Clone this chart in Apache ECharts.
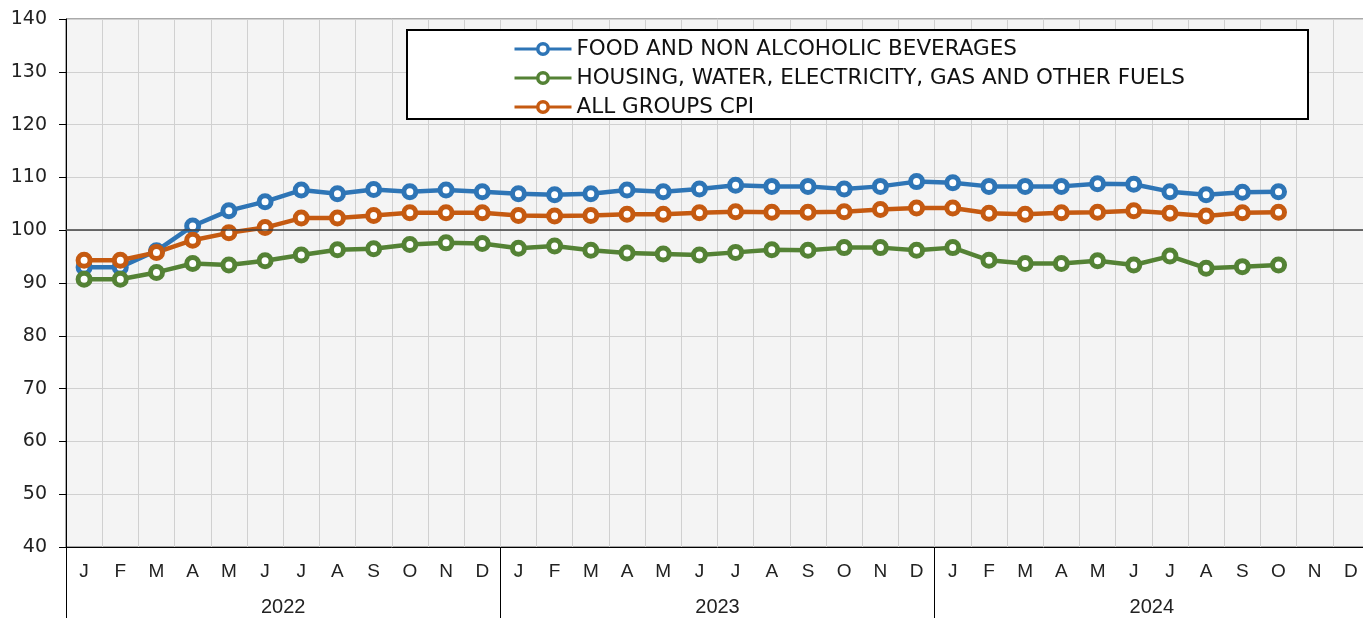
<!DOCTYPE html>
<html>
<head>
<meta charset="utf-8">
<script src="https://cdn.jsdelivr.net/npm/echarts@6/dist/echarts.min.js"></script>
<style>
  html, body { margin: 0; padding: 0; background: #fff; overflow: hidden; }
</style>
</head>
<body>
<div id="chart" style="width: 1369px; height: 618px"></div>
<script>
var months = ['J', 'F', 'M', 'A', 'M', 'J', 'J', 'A', 'S', 'O', 'N', 'D',
  'J', 'F', 'M', 'A', 'M', 'J', 'J', 'A', 'S', 'O', 'N', 'D',
  'J', 'F', 'M', 'A', 'M', 'J', 'J', 'A', 'S', 'O', 'N', 'D']
var years = ['2022', '2023', '2024']

var food = [
  93.0, 93.0, 96.1, 100.8, 103.7, 105.4, 107.6, 106.9, 107.7, 107.3, 107.6, 107.3,
  106.9, 106.7, 106.9, 107.6, 107.3, 107.8, 108.5, 108.3, 108.3, 107.8, 108.3, 109.2,
  109.0, 108.3, 108.3, 108.3, 108.8, 108.7, 107.3, 106.7, 107.2, 107.3
]
var housing = [
  90.7, 90.7, 92.0, 93.7, 93.4, 94.2, 95.3, 96.3, 96.5, 97.3, 97.6, 97.5,
  96.6, 97.0, 96.2, 95.7, 95.5, 95.3, 95.8, 96.3, 96.2, 96.7, 96.7, 96.2,
  96.7, 94.3, 93.7, 93.7, 94.2, 93.4, 95.1, 92.8, 93.1, 93.4
]
var cpi = [
  94.3, 94.3, 95.8, 98.1, 99.5, 100.5, 102.3, 102.3, 102.8, 103.3, 103.3, 103.3,
  102.8, 102.7, 102.8, 103.0, 103.0, 103.3, 103.5, 103.4, 103.4, 103.5, 103.9, 104.2,
  104.2, 103.2, 103.0, 103.3, 103.4, 103.7, 103.2, 102.7, 103.3, 103.4
]

var wide = "'DejaVu Sans', 'Liberation Sans', Arial, sans-serif"
var regular = "'Liberation Sans', Arial, sans-serif"

function makeSeries (name, data, color) {
  return {
    name: name,
    type: 'line',
    data: data,
    symbol: 'circle',
    symbolSize: 12,
    lineStyle: { color: color, width: 4.5 },
    itemStyle: { color: '#fff', borderColor: color, borderWidth: 5 },
    emphasis: { disabled: true }
  }
}

var series = [
  makeSeries('FOOD AND NON ALCOHOLIC BEVERAGES', food, '#2e75b6'),
  makeSeries('HOUSING, WATER, ELECTRICITY, GAS AND OTHER FUELS', housing, '#548235'),
  makeSeries('ALL GROUPS CPI', cpi, '#c55a11')
]
// black reference line at 100
series[0].markLine = {
  silent: true,
  symbol: 'none',
  label: { show: false },
  lineStyle: { color: '#404040', type: 'solid', width: 1.5 },
  data: [{ yAxis: 100 }]
}

var chart = echarts.init(document.getElementById('chart'))
chart.setOption({
  animation: false,
  grid: {
    left: 66,
    top: 19,
    bottom: 71,
    right: 0,
    show: true,
    backgroundColor: '#f4f4f4',
    borderColor: '#555',
    borderWidth: 1
  },
  graphic: [
    {
      type: 'rect',
      z: 3,
      shape: { x: 407, y: 30, width: 901, height: 89 },
      style: { fill: '#fff', stroke: '#000', lineWidth: 2 }
    }
  ],
  legend: {
    orient: 'vertical',
    left: 508,
    top: 33,
    z: 5,
    itemWidth: 57,
    itemHeight: 13,
    itemGap: 7,
    itemStyle: { borderWidth: 3.5 },
    lineStyle: { width: 3 },
    textStyle: { fontFamily: wide, fontSize: 21.5, color: '#111', lineHeight: 22 }
  },
  xAxis: [
    {
      type: 'category',
      data: months,
      boundaryGap: true,
      axisLine: { lineStyle: { color: '#000', width: 1 } },
      axisTick: { show: false },
      axisLabel: { interval: 0, margin: 15, fontFamily: regular, fontSize: 19, color: '#222' },
      splitLine: { show: true, interval: 0, lineStyle: { color: '#d0d0d0', width: 1 } }
    },
    {
      type: 'category',
      data: years,
      position: 'bottom',
      boundaryGap: true,
      axisLine: { show: false },
      axisTick: { show: true, length: 72, lineStyle: { color: '#000', width: 1 } },
      axisLabel: { margin: 50, fontFamily: regular, fontSize: 20, color: '#222' },
      splitLine: { show: false }
    }
  ],
  yAxis: {
    type: 'value',
    min: 40,
    max: 140,
    interval: 10,
    axisLine: { show: true, lineStyle: { color: '#000', width: 1 } },
    axisTick: { show: true, length: 7, lineStyle: { color: '#000' } },
    axisLabel: { margin: 19, fontFamily: wide, fontSize: 19, color: '#222' },
    splitLine: { show: true, lineStyle: { color: '#d0d0d0', width: 1 } }
  },
  series: series
})
</script>
</body>
</html>
